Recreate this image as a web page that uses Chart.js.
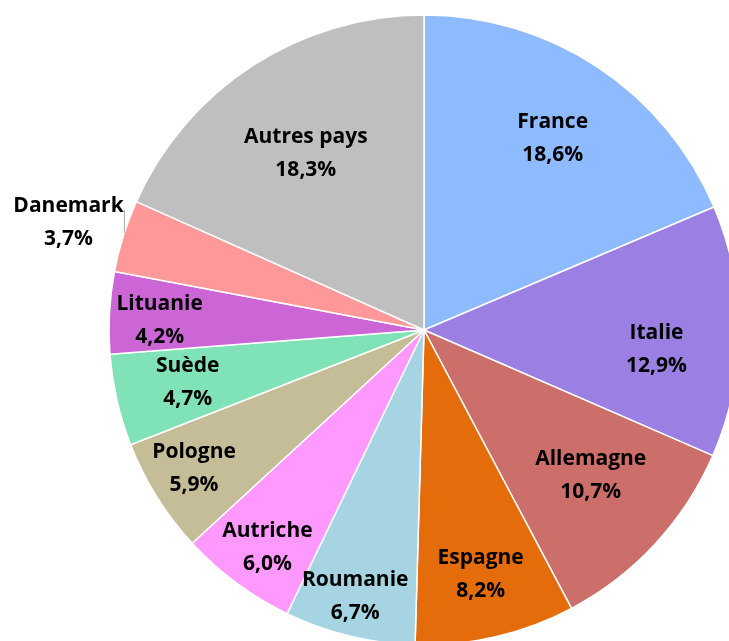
<!DOCTYPE html>
<html>
<head>
<meta charset="utf-8">
<script src="https://cdn.jsdelivr.net/npm/chart.js@4"></script>
<style>
  html, body { margin: 0; padding: 0; background: #fff; }
  #wrap { position: relative; width: 729px; height: 641px; overflow: hidden; }
  #chart { position: absolute; left: 0; top: 0; }
</style>
</head>
<body>
<div id="wrap"><canvas id="chart" width="848" height="660"></canvas></div>
<script>
const countries = ['France', 'Italie', 'Allemagne', 'Espagne', 'Roumanie', 'Autriche',
    'Pologne', 'Suède', 'Lituanie', 'Danemark', 'Autres pays'];
const shares = [18.6, 12.9, 10.7, 8.2, 6.7, 6.0, 5.9, 4.7, 4.2, 3.7, 18.3];
const sliceColors = ['#8ebaff', '#9b7fe2', '#cc6e6a', '#e46c0a', '#a6d4e2', '#ff99ff',
    '#c4bd97', '#80e2b7', '#cc66d6', '#ff9999', '#bfbfbf'];

// label placement: fraction of the radius and a small angle nudge (degrees)
const labelRadius = [0.74, 0.74, 0.698, 0.79, 0.867, 0.844, 0.848, 0.767, 0.84, 1.181, 0.682];
const labelTurn = [0, 4, -2.1, 0, 0.9, -0.5, 1.4, 0.9, -0.65, -0.25, -0.4];

const fmt = v => v.toFixed(1).replace('.', ',') + '%';

const sliceLabels = {
    id: 'sliceLabels',
    afterDatasetsDraw(chart) {
        const ctx = chart.ctx;
        const arcs = chart.getDatasetMeta(0).data;
        ctx.save();
        ctx.font = 'bold 21px "Open Sans"';
        ctx.fillStyle = '#000';
        ctx.textAlign = 'center';
        ctx.textBaseline = 'middle';
        arcs.forEach((arc, i) => {
            const { x, y, startAngle, endAngle, outerRadius } = arc.getProps(['x', 'y', 'startAngle', 'endAngle', 'outerRadius'], true);
            const mid = (startAngle + endAngle) / 2;
            const a = mid + labelTurn[i] * Math.PI / 180;
            const r = outerRadius * labelRadius[i];
            const lx = x + Math.cos(a) * r;
            const ly = y + Math.sin(a) * r + 2;
            if (labelRadius[i] > 1) {
                // short leader line from the slice edge
                const ex = x + Math.cos(mid) * outerRadius;
                const ey = y + Math.sin(mid) * outerRadius;
                ctx.strokeStyle = '#a6a6a6';
                ctx.lineWidth = 1;
                ctx.beginPath();
                ctx.moveTo(ex + 1, ey - 3);
                ctx.lineTo(ex + 1, ey - 26);
                ctx.stroke();
            }
            ctx.fillText(countries[i], lx, ly - 16);
            ctx.fillText(fmt(shares[i]), lx, ly + 17);
        });
        ctx.restore();
    }
};

new Chart(document.getElementById('chart'), {
    type: 'pie',
    data: {
        labels: countries,
        datasets: [{
            data: shares,
            backgroundColor: sliceColors,
            borderColor: '#ffffff',
            borderWidth: 1.5
        }]
    },
    options: {
        responsive: false,
        devicePixelRatio: 1,
        animation: false,
        radius: 315,
        plugins: {
            legend: { display: false },
            tooltip: { enabled: false }
        }
    },
    plugins: [sliceLabels]
});
</script>
</body>
</html>
